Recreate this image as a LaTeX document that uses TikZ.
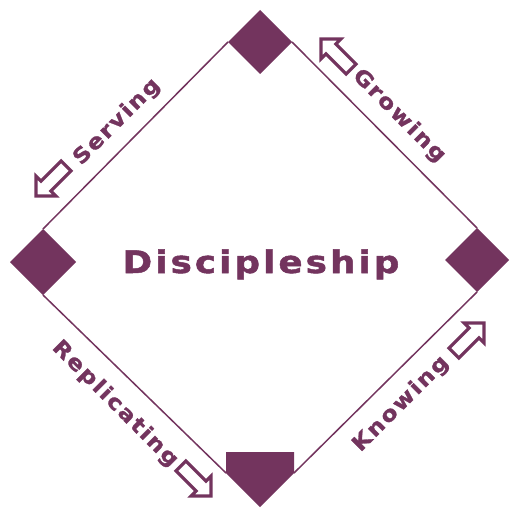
\documentclass[tikz,border=0pt]{standalone}
\usepackage{fontspec}
\setmainfont{DejaVu Sans}
\newfontfamily\labfont[FakeStretch=1.12,FakeBold=1.3,LetterSpace=9]{DejaVu Sans Bold}
\newfontfamily\titfont[FakeStretch=1.15,FakeBold=1.6,LetterSpace=10]{DejaVu Sans Bold}
\definecolor{plum}{RGB}{115,52,94}
\begin{document}
\begin{tikzpicture}[x=1pt,y=-1pt,
  edge/.style={draw=plum,line width=1.5pt},
  corner/.style={fill=plum,draw=none},
  arrowline/.style={draw=plum,line width=3.2pt,line join=miter,fill=white},
  edgelabel/.style={text=plum,font=\labfont\fontsize{21}{21}\selectfont,inner sep=0pt},
  blockarrow/.pic={\path[arrowline] (-1.5,0) -- (-15.5,14) -- (-15.5,7) -- (-44,7) -- (-44,-7) -- (-15.5,-7) -- (-15.5,-14) -- cycle;}]
\useasboundingbox (0,0) rectangle (510,510);
% corner coordinates
\coordinate (tT) at (260,10); \coordinate (tR) at (292,42); \coordinate (tB) at (260,74); \coordinate (tL) at (228,42);
\coordinate (lT) at (43,229); \coordinate (lR) at (76,262); \coordinate (lB) at (43,295); \coordinate (lL) at (10,262);
\coordinate (rT) at (477,228); \coordinate (rR) at (509,260); \coordinate (rB) at (477,292); \coordinate (rL) at (445,260);
\coordinate (bTL) at (226,452); \coordinate (bTR) at (294,452); \coordinate (bR) at (294,473); \coordinate (bB) at (260,507); \coordinate (bL) at (226,473);
% edges
\draw[edge] (tL) -- (lT);
\draw[edge] (tR) -- (rT);
\draw[edge] (lB) -- (bL);
\draw[edge] (rB) -- (bR);
% corners
\path[corner] (tT) -- (tR) -- (tB) -- (tL) -- cycle;
\path[corner] (lT) -- (lR) -- (lB) -- (lL) -- cycle;
\path[corner] (rT) -- (rR) -- (rB) -- (rL) -- cycle;
\path[corner] (bTL) -- (bTR) -- (bR) -- (bB) -- (bL) -- cycle;
% title
\node[text=plum,font=\titfont\fontsize{31}{31}\selectfont,anchor=base,inner sep=0pt] (title) at (261,273) {Discipleship};
% labels
\node[edgelabel,rotate=45] (serving) at (117,122) {Serving};
\node[edgelabel,rotate=-45] (growing) at (399,116) {Growing};
\node[edgelabel,rotate=45] (knowing) at (401,404) {Knowing};
\node[edgelabel,rotate=-45] (replicating) at (115,404) {Replicating};
% arrows
\pic[rotate=135] at (320,38) {blockarrow};
\pic[rotate=225] at (35,197) {blockarrow};
\pic[rotate=45] at (485,322) {blockarrow};
\pic[rotate=-45] at (212,497) {blockarrow};
\end{tikzpicture}
\end{document}
